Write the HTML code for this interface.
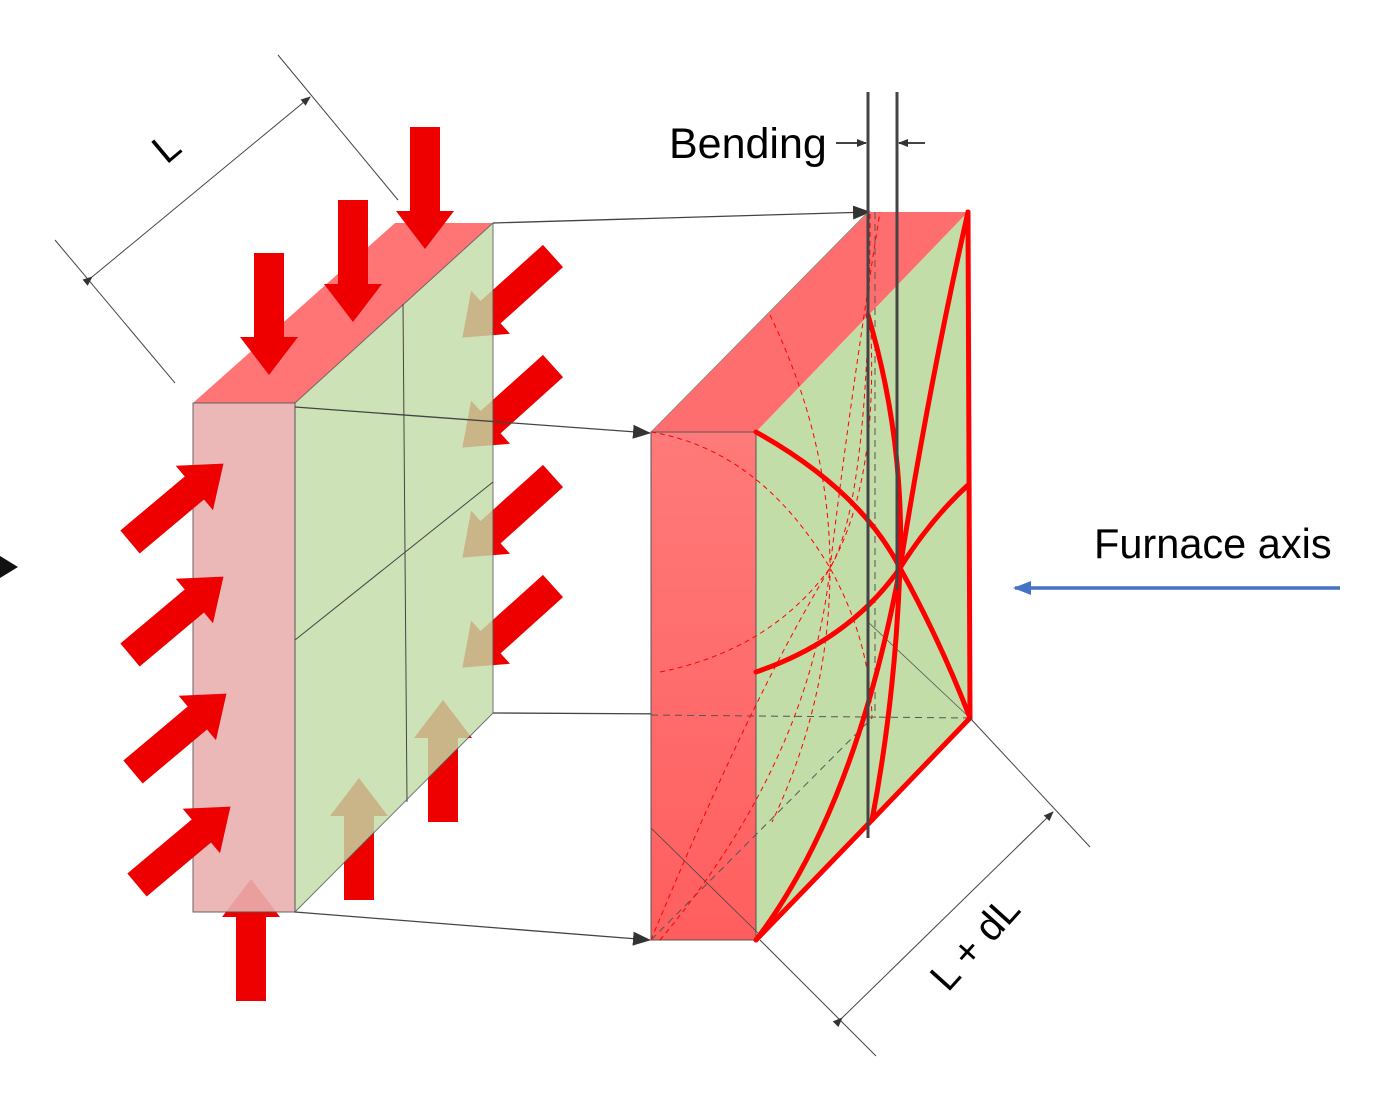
<!DOCTYPE html>
<html><head><meta charset="utf-8"><style>
html,body{margin:0;padding:0;background:#fff;}
svg{display:block;}
text{font-family:"Liberation Sans","DejaVu Sans",sans-serif;fill:#000;}
</style></head><body>
<svg width="1392" height="1093" viewBox="0 0 1392 1093" xmlns="http://www.w3.org/2000/svg">
<defs>
<path id="arr" d="M0,-15 L84,-15 L84,-29 L122,0 L84,29 L84,15 L0,15 Z" fill="#EE0000"/>
<marker id="ah" markerWidth="10" markerHeight="8" refX="9" refY="4" orient="auto" markerUnits="userSpaceOnUse"><path d="M0,0 L10,4 L0,8 Z" fill="#333"/></marker>
<marker id="ahb" markerWidth="18" markerHeight="14" refX="17" refY="7" orient="auto" markerUnits="userSpaceOnUse"><path d="M0,0 L18,7 L0,14 Z" fill="#333"/></marker>
<marker id="ahblue" markerWidth="18" markerHeight="14" refX="16" refY="7" orient="auto" markerUnits="userSpaceOnUse"><path d="M0,0 L18,7 L0,14 Z" fill="#4472C4"/></marker>
<linearGradient id="rg" x1="0" y1="0" x2="0" y2="1"><stop offset="0" stop-color="#FF7A7A"/><stop offset="1" stop-color="#FF5E5E"/></linearGradient>
</defs>

<path d="M0,556 L18,567 L0,578 Z" fill="#111"/>

<line x1="55" y1="240" x2="175" y2="383" stroke="#444" stroke-width="1"/>
<line x1="278" y1="55" x2="398" y2="200" stroke="#444" stroke-width="1"/>
<line x1="92" y1="277" x2="310" y2="97" stroke="#444" stroke-width="1" marker-end="url(#ah)" marker-start="url(#ah)"/>
<text x="175" y="158" font-size="40" transform="rotate(-40 175 158)" text-anchor="middle">L</text>

<use href="#arr" transform="translate(553,256) rotate(138)"/>
<use href="#arr" transform="translate(553,366) rotate(138)"/>
<use href="#arr" transform="translate(553,476) rotate(138)"/>
<use href="#arr" transform="translate(553,586) rotate(138)"/>
<use href="#arr" transform="translate(359,900) rotate(-90)"/>
<use href="#arr" transform="translate(443,822) rotate(-90)"/>
<use href="#arr" transform="translate(251,1001) rotate(-90)"/>

<polygon points="193,403 295,403 493,223 395,223" fill="#FF6E6E" opacity="0.95"/>
<polygon points="295,403 493,223 493,713 295,912" fill="#C3DDA8" opacity="0.82" stroke="#555" stroke-width="1"/>
<polygon points="193,403 295,403 295,912 193,912" fill="#EBB0B0" opacity="0.9" stroke="#555" stroke-width="1"/>
<line x1="403" y1="304" x2="407" y2="802" stroke="#444" stroke-width="1"/>
<line x1="295" y1="640" x2="493" y2="482" stroke="#444" stroke-width="1"/>

<use href="#arr" transform="translate(130,542) rotate(-40)"/>
<use href="#arr" transform="translate(130,655) rotate(-40)"/>
<use href="#arr" transform="translate(133,772) rotate(-40)"/>
<use href="#arr" transform="translate(137,885) rotate(-40)"/>
<use href="#arr" transform="translate(269,253) rotate(90)"/>
<use href="#arr" transform="translate(353,200) rotate(90)"/>
<use href="#arr" transform="translate(425,127) rotate(90)"/>

<line x1="493" y1="223" x2="870" y2="212" stroke="#444" stroke-width="1.3" marker-end="url(#ahb)"/>
<line x1="295" y1="407" x2="650" y2="433" stroke="#444" stroke-width="1.3" marker-end="url(#ahb)"/>
<line x1="493" y1="713" x2="870" y2="715" stroke="#444" stroke-width="1.3" marker-end="url(#ahb)"/>
<line x1="295" y1="912" x2="650" y2="940" stroke="#444" stroke-width="1.3" marker-end="url(#ahb)"/>

<polygon points="651,432 756,432 968,212 868,212" fill="#FF6E6E"/>
<polygon points="756,432 968,212 970,718 756,940" fill="#C3DDA8"/>
<polygon points="651,432 756,432 756,940 651,940" fill="url(#rg)" stroke="#555" stroke-width="1"/>
<line x1="651" y1="432" x2="868" y2="212" stroke="#888" stroke-width="0.8"/>
<line x1="651" y1="828" x2="760" y2="935" stroke="#444" stroke-width="0.8"/>
<line x1="868" y1="622" x2="970" y2="718" stroke="#555" stroke-width="0.8"/>
<g stroke="#555" stroke-width="1" stroke-dasharray="7,5" fill="none">
<line x1="651" y1="715" x2="970" y2="718"/>
<line x1="651" y1="940" x2="872" y2="718"/>
<line x1="875" y1="212" x2="875" y2="718"/>
<line x1="651" y1="940" x2="756" y2="940"/>
</g>
<g stroke="#FF0000" stroke-width="1" stroke-dasharray="5,4" fill="none">
<path d="M651,432 Q760,450 830,568 Q870,640 872,718"/>
<path d="M660,672 Q770,650 830,568 Q870,500 870,212"/>
<path d="M770,315 Q830,440 830,568 Q830,700 772,822"/>
<path d="M660,940 Q810,760 830,568 Q850,400 880,212"/>
<path d="M651,940 Q750,700 830,568 Q880,480 870,315"/>
</g>
<g stroke="#FF0000" stroke-width="5" fill="none" stroke-linecap="round">
<path d="M756,432 Q860,490 900,568 Q940,640 970,718"/>
<path d="M756,672 Q850,640 900,568 Q930,520 968,485"/>
<path d="M868,315 Q905,440 900,568 Q895,700 872,820"/>
<path d="M756,940 Q855,810 900,568 Q930,380 968,212"/>
<path d="M756,940 L872,820 L970,718 L968,212"/>
</g>

<line x1="868" y1="92" x2="868" y2="838" stroke="#444" stroke-width="3"/>
<line x1="897" y1="92" x2="897" y2="590" stroke="#444" stroke-width="3"/>
<line x1="836" y1="143" x2="866" y2="143" stroke="#444" stroke-width="2" marker-end="url(#ah)"/>
<line x1="925" y1="143" x2="899" y2="143" stroke="#444" stroke-width="2" marker-end="url(#ah)"/>
<text x="669" y="158" font-size="43">Bending</text>

<line x1="760" y1="940" x2="876" y2="1056" stroke="#444" stroke-width="1"/>
<line x1="970" y1="718" x2="1090" y2="847" stroke="#444" stroke-width="1"/>
<line x1="842" y1="1018" x2="1053" y2="812" stroke="#444" stroke-width="1" marker-end="url(#ah)" marker-start="url(#ah)"/>
<text x="985" y="952" font-size="40" transform="rotate(-48 985 952)" text-anchor="middle">L + dL</text>

<text x="1094" y="558" font-size="41.5">Furnace axis</text>
<line x1="1340" y1="588" x2="1015" y2="588" stroke="#4472C4" stroke-width="3.5" marker-end="url(#ahblue)"/>
</svg>
</body></html>
